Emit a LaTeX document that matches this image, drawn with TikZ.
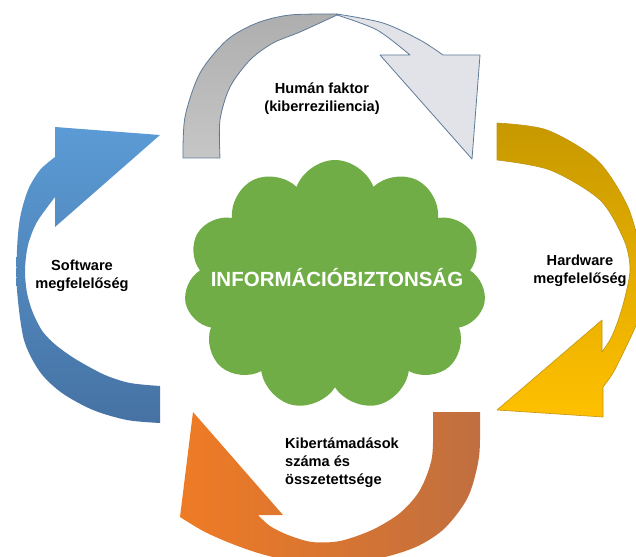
\documentclass[tikz,border=0pt]{standalone}
\usepackage{fontspec}
\setmainfont{Liberation Sans}
\usepackage{tikz}
\usetikzlibrary{shapes.symbols}
\definecolor{cloudgreen}{HTML}{70AD47}
\definecolor{greydark}{HTML}{AEAEAE}
\definecolor{greymid}{HTML}{C6C6C6}
\definecolor{greylight}{HTML}{E2E3E8}
\definecolor{greyline}{HTML}{5E7A98}
\definecolor{golddark}{HTML}{C79900}
\definecolor{goldlight}{HTML}{FFC000}
\definecolor{goldline}{HTML}{C19512}
\definecolor{orangelight}{HTML}{EF7B24}
\definecolor{orangedark}{HTML}{C06F40}
\definecolor{bluelight}{HTML}{5B9BD5}
\definecolor{bluedark}{HTML}{4672A3}

\begin{document}
\begin{tikzpicture}[x=1pt,y=-1pt,
    lbl/.style={font=\fontsize{14.6}{18}\selectfont\bfseries, text=black, inner sep=0pt},
    bigtext/.style={font=\fontsize{20.5}{24}\selectfont\bfseries, text=white, inner sep=0pt}]
  \useasboundingbox (0,0) rectangle (636,556);
  \clip (0,0) rectangle (636,556);

  % top arrow, dark half and light half
  \shade[top color=greydark, bottom color=greymid, draw=greyline, line width=0.8pt, line join=round]
    plot[smooth] coordinates {(183,158) (185,117) (200,73) (227,40) (257,23) (290,15) (337,14)}
    -- plot[smooth] coordinates {(337,15) (300,32) (273,43) (250,60) (230,87) (220,120) (220,158)}
    -- cycle;
  \fill[greylight, draw=greyline, line width=0.8pt, line join=round]
    plot[smooth] coordinates {(337,14) (383,23) (420,40) (443,55)}
    -- (480,55) -- (472,159) -- (380,55)
    -- plot[smooth] coordinates {(410,55) (377,30) (337,15)}
    -- cycle;

  % right arrow
  \shade[top color=golddark, bottom color=goldlight, draw=goldline, line width=0.6pt, line join=round]
    plot[smooth] coordinates {(497,123) (547,130) (597,160) (627,205) (640,250) (644,290) (638,320) (626,347) (613,373) (603,387)}
    -- (603,417) -- (497,410) -- (602,320)
    -- plot[smooth] coordinates {(602,352) (611,338) (619,318) (626,293) (630,268) (624,240) (600,200) (550,170) (497,160)}
    -- cycle;

  % bottom arrow
  \shade[left color=orangelight, right color=orangedark]
    plot[smooth] coordinates {(433,412) (432,457) (420,490) (400,513) (372,530) (340,541) (312,542) (288,535) (270,526) (258,515)}
    -- (283,515) -- (193,412) -- (180,517)
    -- plot[smooth] coordinates {(180,517) (205,532) (235,545) (265,555) (300,562) (345,563) (385,557) (418,546) (445,528) (468,497) (479,457) (480,412)}
    -- cycle;

  % left arrow
  \shade[top color=bluelight, bottom color=bluedark]
    plot[smooth] coordinates {(160,386) (130,383) (105,375) (77,360) (57,346) (43,332) (33,313) (27,293) (25,270) (28,245) (37,222) (55,197)}
    -- (55,227) -- (160,135) -- (55,127)
    -- plot[smooth] coordinates {(55,157) (40,170) (28,190) (20,218) (17,250) (17,290) (24,340) (40,372) (62,393) (93,410) (127,420) (160,423)}
    -- cycle;

  % centre
  \node[cloud, cloud puffs=11, cloud puff arc=140, cloud ignores aspect, fill=cloudgreen,
        minimum width=302pt, minimum height=250pt, inner sep=0pt] (core) at (335,285) {};
  \node[bigtext] (title) at (337,278) {INFORMÁCIÓBIZTONSÁG};

  \node[lbl, align=center] (human) at (322,99) {Humán faktor\\(kiberreziliencia)};
  \node[lbl, align=center] (hardware) at (580,271) {Hardware\\megfelelőség};
  \node[lbl, align=center] (software) at (82,276) {Software\\megfelelőség};
  \node[lbl, align=left, anchor=west] (kiber) at (285,463) {Kibertámadások\\száma és\\összetettsége};
\end{tikzpicture}
\end{document}
